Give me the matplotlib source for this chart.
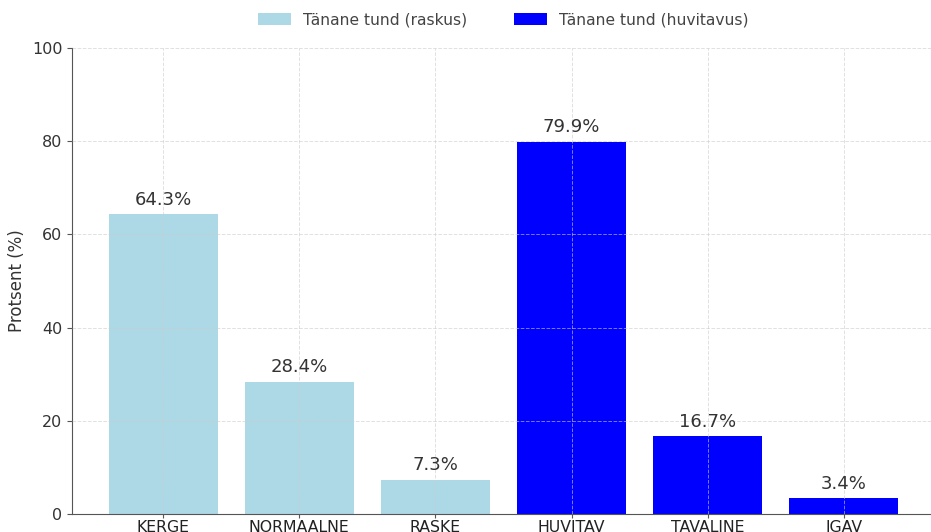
import matplotlib
matplotlib.use("Agg")
import matplotlib.pyplot as plt

categories = ["KERGE", "NORMAALNE", "RASKE", "HUVITAV", "TAVALINE", "IGAV"]
values = [64.3, 28.4, 7.3, 79.9, 16.7, 3.4]
groups = ["raskus", "raskus", "raskus", "huvitavus", "huvitavus", "huvitavus"]
group_labels = {"raskus": "Tänane tund (raskus)", "huvitavus": "Tänane tund (huvitavus)"}
group_colors = {"raskus": "lightblue", "huvitavus": "blue"}
yticks = [0, 20, 40, 60, 80, 100]

fig = plt.figure(figsize=(9.31, 5.32), dpi=100)
ax = fig.add_axes([72 / 931, 18 / 532, 863 / 931, 466 / 532])

x = list(range(len(categories)))
for grp in ["raskus", "huvitavus"]:
    xs = [i for i, g in zip(x, groups) if g == grp]
    vs = [v for v, g in zip(values, groups) if g == grp]
    bars = ax.bar(xs, vs, width=0.8, color=group_colors[grp], label=group_labels[grp], zorder=1)
    for b, v in zip(bars, vs):
        ax.text(b.get_x() + b.get_width() / 2, v + 1.2, f"{v}%", ha="center", va="bottom",
                fontsize=13, color="#333333", zorder=3)

ax.set_xlim(-0.67, 5.67)
ax.set_ylim(0, 100)
ax.set_xticks(x)
ax.set_xticklabels(categories, fontsize=11.3, color="#222222")
ax.set_yticks(yticks)
ax.tick_params(axis="y", labelsize=11.5, labelcolor="#333333", colors="#555555")
ax.tick_params(axis="x", colors="#555555", labelcolor="#222222", length=3, pad=1)
ax.set_ylabel("Protsent (%)", fontsize=12, color="#333333")
ax.grid(True, linestyle="--", linewidth=0.7, color="#cccccc", alpha=0.6, zorder=2)
ax.set_axisbelow(False)
for s in ["top", "right"]:
    ax.spines[s].set_visible(False)
for s in ["left", "bottom"]:
    ax.spines[s].set_color("#555555")

ax.legend(loc="center", bbox_to_anchor=(0.5, 1 + 28 / 466), ncol=2, frameon=False,
          fontsize=11.2, labelcolor="#444444", handlelength=2.1, handleheight=0.8,
          columnspacing=3.0)

fig.savefig("out.png", dpi=100)
